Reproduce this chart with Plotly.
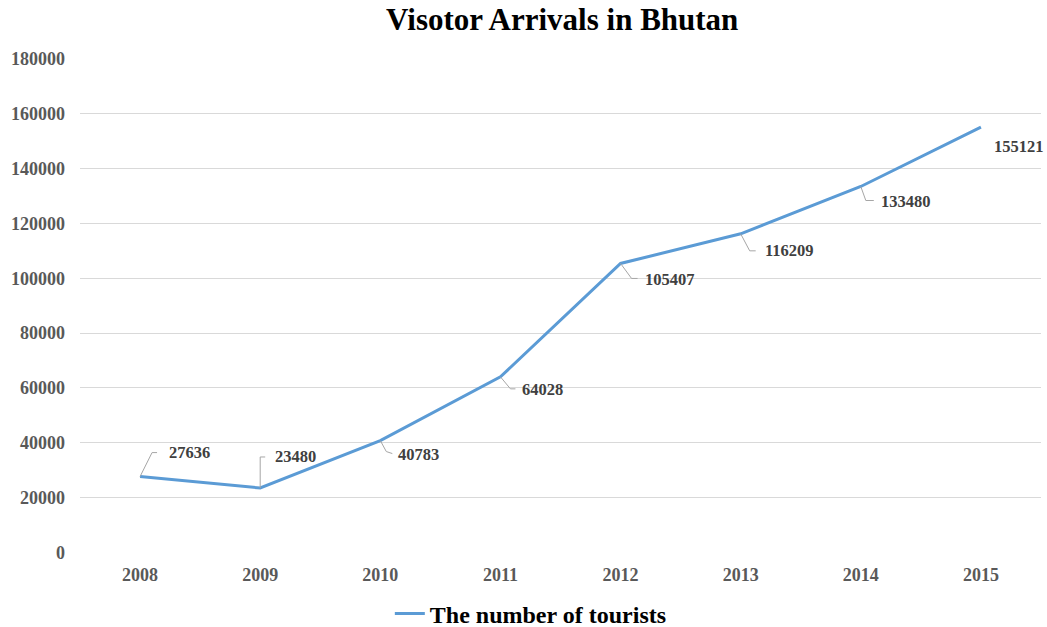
import plotly.graph_objects as go

years = ["2008", "2009", "2010", "2011", "2012", "2013", "2014", "2015"]
tourists = [27636, 23480, 40783, 64028, 105407, 116209, 133480, 155121]
series_name = "The number of tourists"
title_text = "Visotor Arrivals in Bhutan"
y_ticks = [0, 20000, 40000, 60000, 80000, 100000, 120000, 140000, 160000, 180000]

# label placement (pixel offsets from each point) and leader paths
label_dx = [27, 13, 16, 20, 22, 22, 18, 11]
label_dy = [24, 31, -14, -13, -16, -17, -15, -19]
leaders = [
    "M0,0 L12,24 L17,24",
    "M0,0 L0,31 L5,31",
    "M0,0 L6,-11 L12,-13",
    "M0,0 L10,-12 L15,-12",
    "M0,0 L11,-15 L17,-15",
    "M0,0 L9,-17 L15,-17",
    "M0,0 L5,-14 L13,-14",
    None,
]

FONT = "Liberation Serif, Times New Roman, serif"
LINE_COLOR = "#5B9BD5"

fig = go.Figure()
fig.add_trace(go.Scatter(
    x=list(range(len(years))), y=tourists, mode="lines", name=f"<b>{series_name}</b>",
    line=dict(color=LINE_COLOR, width=3),
    showlegend=True,
))

annotations = []
shapes = []
for i, (val, dx, dy, path) in enumerate(zip(tourists, label_dx, label_dy, leaders)):
    annotations.append(dict(
        x=i, y=val, xref="x", yref="y", text=f"<b>{val}</b>",
        showarrow=False, xanchor="left", yanchor="middle",
        xshift=dx, yshift=dy,
        font=dict(family=FONT, size=16.5, color="#404040"),
    ))
    if path:
        shapes.append(dict(
            type="path", xref="x", yref="y",
            xsizemode="pixel", ysizemode="pixel",
            xanchor=i, yanchor=val, path=path,
            line=dict(color="#A6A6A6", width=1),
        ))

fig.update_layout(
    width=1047, height=627,
    margin=dict(l=80, r=6, t=59, b=73),
    paper_bgcolor="white", plot_bgcolor="white",
    title=dict(text=f"<b>{title_text}</b>", x=0.537, xref="container",
               y=0.969, yref="container", xanchor="center", yanchor="middle",
               font=dict(family=FONT, size=31, color="black")),
    legend=dict(orientation="h", x=0.507, xref="container", xanchor="center",
                y=0.021, yref="container", yanchor="middle",
                font=dict(family=FONT, size=24, color="black")),
    showlegend=True,
    font=dict(family=FONT),
    annotations=annotations,
    shapes=shapes,
)

fig.update_xaxes(
    showgrid=False, showline=False, ticks="", zeroline=False,
    tickvals=list(range(len(years))), ticktext=[f"<b>{y}</b>" for y in years],
    tickfont=dict(family=FONT, size=18, color="#595959"),
    range=[-0.5, len(years) - 0.5], ticklabelstandoff=10,
)
fig.update_yaxes(
    range=[0, 180000], tickvals=y_ticks, ticktext=[f"<b>{v}</b>" for v in y_ticks],
    showgrid=True, gridcolor="#D9D9D9", gridwidth=1, zeroline=False,
    showline=False, ticks="", ticklabelstandoff=14,
    tickfont=dict(family=FONT, size=18, color="#595959"),
)

fig.write_html("out.html")
